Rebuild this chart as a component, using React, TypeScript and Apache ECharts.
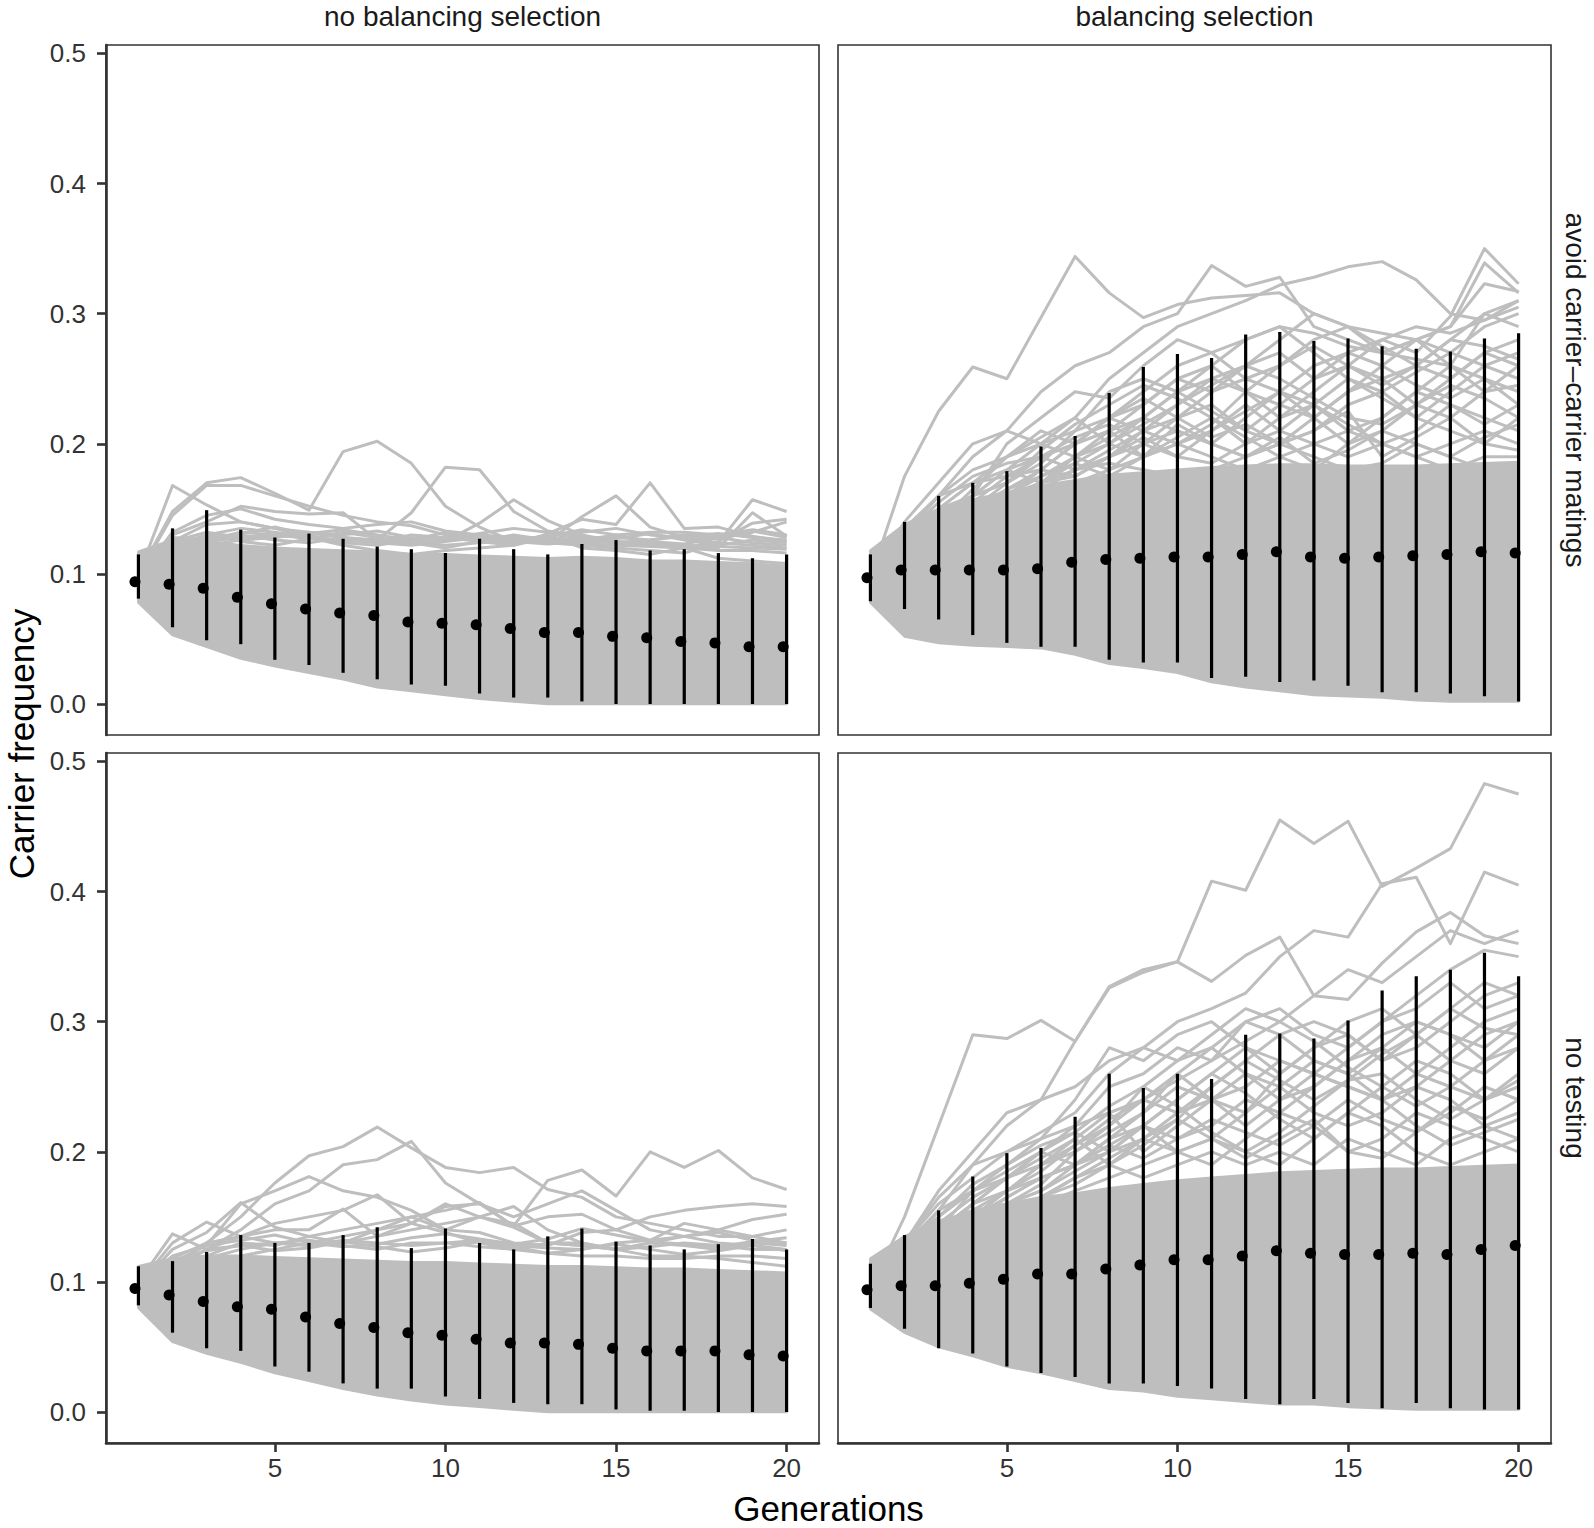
import React, { useEffect, useRef } from "react";
import * as echarts from "echarts";

const GENERATIONS = [1, 2, 3, 4, 5, 6, 7, 8, 9, 10, 11, 12, 13, 14, 15, 16, 17, 18, 19, 20];
const X_TICKS = [5, 10, 15, 20];
const Y_TICKS = [0, 0.1, 0.2, 0.3, 0.4, 0.5];
const COL_LABELS = ["no balancing selection", "balancing selection"];
const ROW_LABELS = ["avoid carrier\u2013carrier matings", "no testing"];
const X_TITLE = "Generations";
const Y_TITLE = "Carrier frequency";

// ---------- top-left: avoid carrier-carrier matings / no balancing selection
const TL_MEAN = [0.094, 0.092, 0.089, 0.082, 0.077, 0.073, 0.070, 0.068, 0.063, 0.062, 0.061, 0.058, 0.055, 0.055, 0.052, 0.051, 0.048, 0.047, 0.044, 0.044];
const TL_LO = [0.081, 0.059, 0.049, 0.046, 0.034, 0.030, 0.024, 0.019, 0.015, 0.014, 0.008, 0.005, 0.005, 0.002, 0.000, 0.000, 0.000, 0.000, 0.000, 0.000];
const TL_HI = [0.115, 0.135, 0.149, 0.134, 0.128, 0.131, 0.127, 0.121, 0.119, 0.116, 0.127, 0.119, 0.115, 0.123, 0.126, 0.118, 0.119, 0.116, 0.112, 0.115];
const TL_BAND_LO = [0.078, 0.053, 0.044, 0.035, 0.029, 0.024, 0.019, 0.013, 0.010, 0.007, 0.004, 0.002, 0.000, 0.000, 0.000, 0.000, 0.000, 0.000, 0.000, 0.000];
const TL_BAND_HI = [0.117, 0.126, 0.125, 0.122, 0.120, 0.119, 0.118, 0.117, 0.115, 0.115, 0.114, 0.113, 0.112, 0.113, 0.112, 0.110, 0.110, 0.109, 0.108, 0.106];
const TL_RUNS = [
  [0.100, 0.148, 0.170, 0.174, 0.162, 0.149, 0.194, 0.202, 0.185, 0.152, 0.136, 0.125, 0.130, 0.120, 0.118, 0.115, 0.120, 0.112, 0.110, 0.108],
  [0.097, 0.130, 0.140, 0.152, 0.148, 0.146, 0.147, 0.126, 0.147, 0.182, 0.180, 0.148, 0.133, 0.129, 0.125, 0.122, 0.120, 0.118, 0.118, 0.116],
  [0.099, 0.168, 0.153, 0.140, 0.135, 0.128, 0.122, 0.118, 0.115, 0.118, 0.120, 0.122, 0.131, 0.142, 0.138, 0.170, 0.135, 0.136, 0.129, 0.125],
  [0.098, 0.120, 0.128, 0.130, 0.126, 0.124, 0.128, 0.125, 0.130, 0.128, 0.126, 0.124, 0.125, 0.144, 0.160, 0.136, 0.128, 0.124, 0.122, 0.120],
  [0.096, 0.122, 0.130, 0.135, 0.132, 0.128, 0.126, 0.124, 0.122, 0.125, 0.128, 0.126, 0.124, 0.122, 0.120, 0.118, 0.116, 0.124, 0.157, 0.148],
  [0.097, 0.118, 0.126, 0.132, 0.130, 0.127, 0.125, 0.127, 0.124, 0.122, 0.124, 0.125, 0.123, 0.125, 0.124, 0.122, 0.121, 0.120, 0.147, 0.129],
  [0.099, 0.145, 0.168, 0.168, 0.160, 0.152, 0.145, 0.140, 0.137, 0.130, 0.128, 0.126, 0.124, 0.123, 0.122, 0.121, 0.120, 0.125, 0.139, 0.142],
  [0.096, 0.125, 0.132, 0.128, 0.130, 0.132, 0.128, 0.126, 0.124, 0.125, 0.139, 0.157, 0.141, 0.130, 0.125, 0.124, 0.122, 0.121, 0.120, 0.119],
  [0.100, 0.125, 0.138, 0.140, 0.135, 0.132, 0.130, 0.133, 0.128, 0.126, 0.130, 0.127, 0.125, 0.127, 0.128, 0.126, 0.130, 0.128, 0.124, 0.122],
  [0.097, 0.120, 0.125, 0.128, 0.130, 0.128, 0.126, 0.125, 0.127, 0.128, 0.125, 0.122, 0.128, 0.126, 0.130, 0.132, 0.132, 0.130, 0.134, 0.130],
  [0.098, 0.132, 0.145, 0.150, 0.142, 0.138, 0.135, 0.138, 0.140, 0.133, 0.130, 0.128, 0.126, 0.132, 0.135, 0.130, 0.128, 0.127, 0.132, 0.140],
  [0.095, 0.115, 0.122, 0.126, 0.128, 0.131, 0.134, 0.130, 0.126, 0.127, 0.131, 0.135, 0.132, 0.127, 0.124, 0.126, 0.129, 0.131, 0.128, 0.126],
  [0.097, 0.118, 0.130, 0.125, 0.122, 0.127, 0.132, 0.128, 0.124, 0.120, 0.125, 0.130, 0.126, 0.122, 0.127, 0.131, 0.126, 0.122, 0.126, 0.124],
  [0.096, 0.128, 0.126, 0.131, 0.136, 0.130, 0.124, 0.122, 0.126, 0.132, 0.128, 0.124, 0.129, 0.134, 0.130, 0.125, 0.123, 0.128, 0.133, 0.128],
];

// ---------- top-right: avoid carrier-carrier matings / balancing selection
const TR_MEAN = [0.097, 0.103, 0.103, 0.103, 0.103, 0.104, 0.109, 0.111, 0.112, 0.113, 0.113, 0.115, 0.117, 0.113, 0.112, 0.113, 0.114, 0.115, 0.117, 0.116];
const TR_LO = [0.079, 0.073, 0.065, 0.053, 0.047, 0.044, 0.044, 0.034, 0.032, 0.032, 0.020, 0.021, 0.017, 0.018, 0.014, 0.009, 0.009, 0.008, 0.006, 0.002];
const TR_HI = [0.115, 0.140, 0.160, 0.170, 0.179, 0.198, 0.206, 0.239, 0.259, 0.269, 0.266, 0.284, 0.286, 0.279, 0.281, 0.275, 0.273, 0.271, 0.281, 0.285];
const TR_BAND_LO = [0.078, 0.052, 0.047, 0.045, 0.044, 0.043, 0.038, 0.031, 0.028, 0.024, 0.017, 0.013, 0.010, 0.007, 0.006, 0.005, 0.003, 0.002, 0.002, 0.002];
const TR_BAND_HI = [0.118, 0.138, 0.150, 0.157, 0.163, 0.168, 0.172, 0.176, 0.178, 0.180, 0.182, 0.183, 0.184, 0.184, 0.183, 0.183, 0.183, 0.184, 0.185, 0.186];
const TR_RUNS = [
  [0.097, 0.175, 0.225, 0.259, 0.250, 0.297, 0.344, 0.316, 0.297, 0.307, 0.312, 0.314, 0.316, 0.300, 0.290, 0.285, 0.280, 0.270, 0.290, 0.300],
  [0.096, 0.130, 0.160, 0.190, 0.210, 0.240, 0.260, 0.270, 0.290, 0.300, 0.337, 0.321, 0.328, 0.290, 0.280, 0.270, 0.265, 0.260, 0.300, 0.310],
  [0.097, 0.120, 0.150, 0.170, 0.190, 0.200, 0.220, 0.250, 0.270, 0.290, 0.300, 0.310, 0.322, 0.328, 0.336, 0.340, 0.326, 0.300, 0.295, 0.310],
  [0.096, 0.120, 0.140, 0.160, 0.170, 0.190, 0.200, 0.210, 0.220, 0.240, 0.250, 0.260, 0.270, 0.250, 0.260, 0.280, 0.270, 0.298, 0.350, 0.323],
  [0.096, 0.125, 0.145, 0.160, 0.180, 0.200, 0.210, 0.220, 0.240, 0.260, 0.270, 0.280, 0.290, 0.285, 0.275, 0.270, 0.280, 0.290, 0.339, 0.316],
  [0.097, 0.130, 0.150, 0.170, 0.180, 0.190, 0.200, 0.220, 0.230, 0.250, 0.240, 0.260, 0.280, 0.300, 0.290, 0.270, 0.280, 0.290, 0.323, 0.317],
  [0.097, 0.120, 0.140, 0.160, 0.200, 0.220, 0.240, 0.235, 0.260, 0.280, 0.270, 0.250, 0.260, 0.280, 0.290, 0.275, 0.260, 0.250, 0.270, 0.280],
  [0.096, 0.115, 0.135, 0.150, 0.170, 0.185, 0.210, 0.240, 0.250, 0.240, 0.260, 0.280, 0.290, 0.270, 0.250, 0.240, 0.255, 0.270, 0.260, 0.250],
  [0.097, 0.130, 0.160, 0.180, 0.190, 0.210, 0.200, 0.220, 0.210, 0.230, 0.250, 0.240, 0.220, 0.240, 0.260, 0.250, 0.230, 0.220, 0.240, 0.260],
  [0.098, 0.120, 0.130, 0.150, 0.160, 0.170, 0.190, 0.200, 0.220, 0.210, 0.200, 0.220, 0.240, 0.230, 0.210, 0.220, 0.240, 0.260, 0.250, 0.230],
  [0.096, 0.110, 0.130, 0.140, 0.155, 0.170, 0.180, 0.190, 0.200, 0.220, 0.230, 0.210, 0.200, 0.210, 0.230, 0.240, 0.220, 0.210, 0.200, 0.220],
  [0.097, 0.125, 0.140, 0.155, 0.160, 0.175, 0.190, 0.210, 0.190, 0.200, 0.210, 0.230, 0.210, 0.200, 0.190, 0.200, 0.210, 0.230, 0.220, 0.210],
  [0.096, 0.115, 0.120, 0.140, 0.165, 0.180, 0.175, 0.190, 0.205, 0.190, 0.185, 0.200, 0.220, 0.230, 0.215, 0.200, 0.190, 0.200, 0.210, 0.200],
  [0.097, 0.140, 0.170, 0.200, 0.210, 0.200, 0.190, 0.180, 0.190, 0.200, 0.190, 0.180, 0.190, 0.200, 0.210, 0.200, 0.190, 0.180, 0.190, 0.190],
  [0.096, 0.135, 0.160, 0.170, 0.175, 0.180, 0.200, 0.210, 0.230, 0.250, 0.260, 0.240, 0.230, 0.220, 0.240, 0.260, 0.280, 0.260, 0.240, 0.245],
  [0.097, 0.120, 0.135, 0.145, 0.150, 0.160, 0.170, 0.180, 0.200, 0.210, 0.200, 0.190, 0.200, 0.220, 0.240, 0.250, 0.260, 0.280, 0.300, 0.290],
  [0.096, 0.110, 0.125, 0.140, 0.150, 0.165, 0.180, 0.185, 0.180, 0.175, 0.180, 0.190, 0.200, 0.190, 0.180, 0.185, 0.200, 0.190, 0.180, 0.185],
  [0.096, 0.118, 0.130, 0.145, 0.160, 0.170, 0.175, 0.190, 0.210, 0.220, 0.240, 0.250, 0.240, 0.260, 0.270, 0.280, 0.290, 0.285, 0.295, 0.305],
  [0.097, 0.130, 0.155, 0.175, 0.185, 0.190, 0.205, 0.215, 0.200, 0.190, 0.210, 0.225, 0.240, 0.220, 0.200, 0.210, 0.230, 0.250, 0.270, 0.260],
  [0.096, 0.120, 0.140, 0.165, 0.190, 0.205, 0.220, 0.200, 0.190, 0.205, 0.220, 0.205, 0.190, 0.180, 0.200, 0.220, 0.240, 0.230, 0.215, 0.230],
  [0.097, 0.125, 0.150, 0.160, 0.170, 0.195, 0.215, 0.230, 0.245, 0.235, 0.220, 0.200, 0.210, 0.230, 0.250, 0.235, 0.220, 0.240, 0.260, 0.270],
  [0.096, 0.118, 0.135, 0.150, 0.165, 0.175, 0.185, 0.200, 0.215, 0.230, 0.245, 0.260, 0.250, 0.235, 0.220, 0.215, 0.230, 0.245, 0.235, 0.220],
  [0.097, 0.122, 0.140, 0.155, 0.175, 0.190, 0.180, 0.195, 0.210, 0.200, 0.215, 0.240, 0.260, 0.275, 0.260, 0.245, 0.260, 0.280, 0.275, 0.265],
  [0.096, 0.116, 0.130, 0.145, 0.155, 0.170, 0.185, 0.175, 0.190, 0.215, 0.200, 0.190, 0.205, 0.185, 0.195, 0.210, 0.200, 0.190, 0.205, 0.215],
  [0.097, 0.128, 0.145, 0.160, 0.180, 0.170, 0.190, 0.205, 0.220, 0.240, 0.225, 0.210, 0.230, 0.250, 0.270, 0.260, 0.245, 0.235, 0.250, 0.240],
  [0.096, 0.112, 0.128, 0.140, 0.160, 0.180, 0.200, 0.220, 0.235, 0.220, 0.205, 0.215, 0.200, 0.210, 0.225, 0.190, 0.205, 0.220, 0.200, 0.195],
];

// ---------- bottom-left: no testing / no balancing selection
const BL_MEAN = [0.095, 0.090, 0.085, 0.081, 0.079, 0.073, 0.068, 0.065, 0.061, 0.059, 0.056, 0.053, 0.053, 0.052, 0.049, 0.047, 0.047, 0.047, 0.044, 0.043];
const BL_LO = [0.082, 0.061, 0.049, 0.047, 0.035, 0.031, 0.022, 0.018, 0.018, 0.012, 0.010, 0.007, 0.006, 0.006, 0.002, 0.001, 0.001, 0.000, 0.000, 0.000];
const BL_HI = [0.112, 0.116, 0.123, 0.136, 0.130, 0.130, 0.136, 0.142, 0.126, 0.141, 0.130, 0.125, 0.135, 0.141, 0.131, 0.128, 0.125, 0.129, 0.133, 0.125];
const BL_BAND_LO = [0.080, 0.054, 0.045, 0.038, 0.030, 0.024, 0.018, 0.013, 0.009, 0.006, 0.004, 0.002, 0.000, 0.000, 0.000, 0.000, 0.000, 0.000, 0.000, 0.000];
const BL_BAND_HI = [0.112, 0.118, 0.120, 0.120, 0.119, 0.118, 0.117, 0.116, 0.115, 0.115, 0.114, 0.113, 0.112, 0.112, 0.111, 0.110, 0.110, 0.109, 0.108, 0.107];
const BL_RUNS = [
  [0.096, 0.110, 0.130, 0.150, 0.176, 0.197, 0.204, 0.219, 0.203, 0.188, 0.184, 0.188, 0.171, 0.165, 0.150, 0.145, 0.140, 0.135, 0.135, 0.130],
  [0.095, 0.110, 0.125, 0.140, 0.160, 0.170, 0.190, 0.194, 0.208, 0.176, 0.160, 0.150, 0.160, 0.170, 0.155, 0.140, 0.135, 0.130, 0.128, 0.125],
  [0.097, 0.115, 0.128, 0.160, 0.170, 0.181, 0.170, 0.165, 0.155, 0.140, 0.150, 0.145, 0.130, 0.130, 0.125, 0.120, 0.120, 0.118, 0.115, 0.112],
  [0.095, 0.105, 0.110, 0.120, 0.125, 0.130, 0.135, 0.140, 0.150, 0.155, 0.161, 0.143, 0.178, 0.186, 0.166, 0.200, 0.188, 0.201, 0.180, 0.171],
  [0.096, 0.108, 0.120, 0.130, 0.128, 0.135, 0.140, 0.145, 0.150, 0.140, 0.138, 0.130, 0.128, 0.138, 0.140, 0.150, 0.155, 0.158, 0.160, 0.158],
  [0.095, 0.110, 0.118, 0.125, 0.130, 0.128, 0.130, 0.135, 0.140, 0.145, 0.150, 0.142, 0.130, 0.128, 0.125, 0.130, 0.135, 0.140, 0.148, 0.152],
  [0.097, 0.125, 0.138, 0.161, 0.142, 0.135, 0.130, 0.140, 0.145, 0.138, 0.130, 0.125, 0.122, 0.120, 0.120, 0.118, 0.118, 0.120, 0.120, 0.118],
  [0.096, 0.118, 0.130, 0.135, 0.140, 0.140, 0.156, 0.135, 0.145, 0.160, 0.150, 0.158, 0.140, 0.130, 0.125, 0.130, 0.128, 0.125, 0.130, 0.128],
  [0.095, 0.112, 0.125, 0.135, 0.145, 0.150, 0.155, 0.167, 0.145, 0.158, 0.160, 0.143, 0.150, 0.152, 0.140, 0.132, 0.145, 0.140, 0.135, 0.140],
  [0.098, 0.130, 0.146, 0.135, 0.130, 0.128, 0.132, 0.130, 0.128, 0.130, 0.127, 0.125, 0.130, 0.128, 0.125, 0.127, 0.130, 0.128, 0.125, 0.125],
  [0.100, 0.137, 0.125, 0.128, 0.130, 0.132, 0.128, 0.125, 0.130, 0.130, 0.132, 0.128, 0.126, 0.125, 0.130, 0.132, 0.135, 0.138, 0.132, 0.130],
  [0.096, 0.120, 0.128, 0.132, 0.136, 0.130, 0.127, 0.129, 0.134, 0.137, 0.133, 0.129, 0.133, 0.141, 0.136, 0.131, 0.129, 0.127, 0.131, 0.134],
  [0.097, 0.116, 0.124, 0.128, 0.124, 0.126, 0.131, 0.127, 0.123, 0.126, 0.131, 0.127, 0.122, 0.125, 0.129, 0.125, 0.121, 0.124, 0.128, 0.124],
];

// ---------- bottom-right: no testing / balancing selection
const BR_MEAN = [0.094, 0.097, 0.097, 0.099, 0.102, 0.106, 0.106, 0.110, 0.113, 0.117, 0.117, 0.120, 0.124, 0.122, 0.121, 0.121, 0.122, 0.121, 0.125, 0.128];
const BR_LO = [0.080, 0.064, 0.049, 0.045, 0.035, 0.030, 0.027, 0.022, 0.022, 0.020, 0.018, 0.010, 0.006, 0.010, 0.007, 0.003, 0.007, 0.003, 0.002, 0.002];
const BR_HI = [0.114, 0.136, 0.155, 0.181, 0.199, 0.203, 0.227, 0.260, 0.249, 0.260, 0.256, 0.290, 0.291, 0.287, 0.301, 0.324, 0.335, 0.340, 0.353, 0.335];
const BR_BAND_LO = [0.079, 0.061, 0.050, 0.043, 0.035, 0.030, 0.024, 0.018, 0.016, 0.012, 0.010, 0.008, 0.006, 0.006, 0.004, 0.003, 0.002, 0.002, 0.002, 0.002];
const BR_BAND_HI = [0.118, 0.135, 0.147, 0.154, 0.160, 0.165, 0.168, 0.172, 0.175, 0.178, 0.180, 0.182, 0.184, 0.185, 0.186, 0.187, 0.187, 0.188, 0.189, 0.190];
const BR_RUNS = [
  [0.095, 0.150, 0.220, 0.290, 0.287, 0.301, 0.285, 0.327, 0.340, 0.346, 0.408, 0.401, 0.455, 0.437, 0.454, 0.404, 0.418, 0.433, 0.483, 0.475],
  [0.095, 0.130, 0.170, 0.200, 0.230, 0.240, 0.250, 0.270, 0.280, 0.300, 0.310, 0.322, 0.350, 0.370, 0.365, 0.406, 0.411, 0.360, 0.415, 0.405],
  [0.096, 0.120, 0.155, 0.190, 0.220, 0.240, 0.285, 0.326, 0.338, 0.346, 0.331, 0.351, 0.365, 0.320, 0.317, 0.345, 0.369, 0.384, 0.366, 0.360],
  [0.095, 0.120, 0.140, 0.160, 0.180, 0.200, 0.220, 0.250, 0.260, 0.280, 0.270, 0.300, 0.310, 0.290, 0.280, 0.300, 0.320, 0.340, 0.355, 0.350],
  [0.094, 0.115, 0.130, 0.150, 0.170, 0.190, 0.210, 0.230, 0.240, 0.230, 0.250, 0.270, 0.290, 0.300, 0.290, 0.270, 0.280, 0.300, 0.320, 0.330],
  [0.096, 0.125, 0.150, 0.170, 0.180, 0.190, 0.200, 0.220, 0.250, 0.270, 0.280, 0.260, 0.240, 0.250, 0.270, 0.290, 0.300, 0.290, 0.280, 0.300],
  [0.095, 0.110, 0.125, 0.140, 0.160, 0.170, 0.190, 0.200, 0.210, 0.230, 0.240, 0.250, 0.270, 0.260, 0.250, 0.240, 0.250, 0.270, 0.260, 0.280],
  [0.094, 0.120, 0.140, 0.160, 0.170, 0.180, 0.190, 0.210, 0.220, 0.210, 0.220, 0.240, 0.230, 0.250, 0.270, 0.280, 0.260, 0.250, 0.240, 0.250],
  [0.095, 0.130, 0.160, 0.180, 0.200, 0.210, 0.220, 0.230, 0.200, 0.220, 0.240, 0.260, 0.250, 0.230, 0.220, 0.230, 0.250, 0.240, 0.220, 0.230],
  [0.096, 0.115, 0.130, 0.140, 0.150, 0.165, 0.180, 0.190, 0.210, 0.200, 0.190, 0.210, 0.230, 0.220, 0.200, 0.210, 0.230, 0.220, 0.210, 0.200],
  [0.094, 0.110, 0.120, 0.135, 0.150, 0.160, 0.170, 0.180, 0.190, 0.200, 0.210, 0.200, 0.190, 0.210, 0.230, 0.220, 0.200, 0.190, 0.200, 0.210],
  [0.095, 0.125, 0.145, 0.155, 0.160, 0.170, 0.185, 0.200, 0.220, 0.240, 0.260, 0.280, 0.270, 0.260, 0.280, 0.300, 0.310, 0.330, 0.310, 0.320],
  [0.096, 0.120, 0.135, 0.150, 0.165, 0.180, 0.190, 0.210, 0.230, 0.250, 0.240, 0.220, 0.240, 0.260, 0.250, 0.240, 0.260, 0.280, 0.300, 0.310],
  [0.095, 0.115, 0.125, 0.140, 0.155, 0.165, 0.175, 0.190, 0.180, 0.190, 0.200, 0.190, 0.200, 0.190, 0.210, 0.200, 0.190, 0.210, 0.220, 0.210],
  [0.095, 0.120, 0.140, 0.170, 0.190, 0.210, 0.240, 0.280, 0.270, 0.290, 0.300, 0.280, 0.260, 0.280, 0.290, 0.270, 0.290, 0.310, 0.330, 0.320],
  [0.094, 0.113, 0.130, 0.145, 0.160, 0.175, 0.200, 0.215, 0.230, 0.260, 0.280, 0.300, 0.290, 0.270, 0.260, 0.280, 0.300, 0.290, 0.270, 0.280],
  [0.096, 0.130, 0.165, 0.190, 0.200, 0.215, 0.230, 0.260, 0.280, 0.270, 0.290, 0.310, 0.300, 0.320, 0.340, 0.330, 0.350, 0.370, 0.360, 0.370],
  [0.095, 0.125, 0.150, 0.175, 0.190, 0.205, 0.215, 0.200, 0.220, 0.240, 0.260, 0.245, 0.225, 0.210, 0.230, 0.250, 0.270, 0.260, 0.240, 0.255],
  [0.096, 0.118, 0.135, 0.160, 0.180, 0.200, 0.215, 0.235, 0.250, 0.235, 0.215, 0.200, 0.215, 0.235, 0.255, 0.260, 0.240, 0.225, 0.240, 0.260],
  [0.094, 0.120, 0.140, 0.155, 0.170, 0.185, 0.205, 0.225, 0.240, 0.255, 0.270, 0.285, 0.300, 0.285, 0.265, 0.250, 0.235, 0.250, 0.270, 0.290],
  [0.095, 0.113, 0.128, 0.145, 0.165, 0.180, 0.190, 0.205, 0.195, 0.210, 0.225, 0.215, 0.205, 0.220, 0.240, 0.225, 0.215, 0.230, 0.250, 0.240],
  [0.096, 0.128, 0.155, 0.170, 0.185, 0.200, 0.190, 0.205, 0.220, 0.200, 0.210, 0.230, 0.250, 0.270, 0.260, 0.240, 0.220, 0.205, 0.215, 0.225],
  [0.095, 0.116, 0.130, 0.150, 0.170, 0.190, 0.205, 0.220, 0.240, 0.260, 0.240, 0.230, 0.260, 0.280, 0.300, 0.310, 0.290, 0.270, 0.290, 0.300],
  [0.094, 0.110, 0.125, 0.140, 0.150, 0.165, 0.180, 0.195, 0.210, 0.225, 0.210, 0.195, 0.210, 0.225, 0.200, 0.195, 0.215, 0.235, 0.225, 0.240],
  [0.096, 0.122, 0.145, 0.165, 0.180, 0.195, 0.210, 0.190, 0.205, 0.225, 0.250, 0.270, 0.255, 0.240, 0.255, 0.275, 0.290, 0.310, 0.295, 0.290],
];

const PANELS = [
  { mean: TL_MEAN, lo: TL_LO, hi: TL_HI, bandLo: TL_BAND_LO, bandHi: TL_BAND_HI, runs: TL_RUNS, col: 0, row: 0 },
  { mean: TR_MEAN, lo: TR_LO, hi: TR_HI, bandLo: TR_BAND_LO, bandHi: TR_BAND_HI, runs: TR_RUNS, col: 1, row: 0 },
  { mean: BL_MEAN, lo: BL_LO, hi: BL_HI, bandLo: BL_BAND_LO, bandHi: BL_BAND_HI, runs: BL_RUNS, col: 0, row: 1 },
  { mean: BR_MEAN, lo: BR_LO, hi: BR_HI, bandLo: BR_BAND_LO, bandHi: BR_BAND_HI, runs: BR_RUNS, col: 1, row: 1 },
];

const FONT = "'Liberation Sans', Arial, Helvetica, sans-serif";
const GRAY = "#bebebe";
const AXIS_COL = "#333333";
const COL_LEFT = [106, 838];
const ROW_TOP = [45, 753];
const PANEL_W = 713;
const PANEL_H = 690;
const DOT_DODGE = 0.1;

function buildOption() {
  const grid: any[] = [];
  const xAxis: any[] = [];
  const yAxis: any[] = [];
  const series: any[] = [];

  PANELS.forEach((p, i) => {
    const isLeft = p.col === 0;
    const isBottom = p.row === 1;
    grid.push({
      left: COL_LEFT[p.col],
      top: ROW_TOP[p.row],
      width: PANEL_W,
      height: PANEL_H,
      show: true,
      borderColor: AXIS_COL,
      borderWidth: 1.6,
      backgroundColor: "transparent",
      containLabel: false,
    });
    xAxis.push({
      gridIndex: i,
      type: "value",
      min: 0.05,
      max: 20.95,
      splitLine: { show: false },
      axisLine: { show: isBottom, onZero: false, lineStyle: { color: AXIS_COL, width: 2.6 } },
      axisTick: { show: isBottom, customValues: X_TICKS, length: 9, lineStyle: { color: AXIS_COL, width: 2.6 } },
      axisLabel: {
        show: isBottom,
        customValues: X_TICKS,
        fontSize: 26,
        color: AXIS_COL,
        fontFamily: FONT,
        margin: 12,
        formatter: (v: number) => String(v),
      },
    });
    yAxis.push({
      gridIndex: i,
      type: "value",
      min: -0.0238,
      max: 0.5065,
      splitLine: { show: false },
      axisLine: { show: isLeft, onZero: false, lineStyle: { color: AXIS_COL, width: 2.6 } },
      axisTick: { show: isLeft, customValues: Y_TICKS, length: 9, lineStyle: { color: AXIS_COL, width: 2.6 } },
      axisLabel: {
        show: isLeft,
        customValues: Y_TICKS,
        fontSize: 26,
        color: AXIS_COL,
        fontFamily: FONT,
        margin: 20,
        formatter: (v: number) => v.toFixed(1),
      },
    });

    // dense band of trajectories, drawn as one polygon through the axis scales
    series.push({
      type: "custom",
      xAxisIndex: i,
      yAxisIndex: i,
      silent: true,
      z: 1,
      data: GENERATIONS.map((g, k) => [g, p.bandLo[k], p.bandHi[k]]),
      encode: { x: 0, y: [1, 2] },
      renderItem: (params: any, api: any) => {
        if (params.dataIndex !== 0) return { type: "group", children: [] };
        const upper = GENERATIONS.map((g, k) => api.coord([g, p.bandHi[k]]));
        const lower = GENERATIONS.map((g, k) => api.coord([g, p.bandLo[k]])).reverse();
        return {
          type: "polygon",
          shape: { points: upper.concat(lower) },
          style: { fill: GRAY, stroke: GRAY, lineWidth: 2.6, lineJoin: "round" },
        };
      },
    });
    // individual trajectories
    p.runs.forEach((run) => {
      series.push({
        type: "line",
        xAxisIndex: i,
        yAxisIndex: i,
        data: GENERATIONS.map((g, k) => [g, run[k]]),
        symbol: "none",
        silent: true,
        lineStyle: { color: GRAY, width: 3, join: "round" },
        z: 2,
      });
    });
    // interval bars
    series.push({
      type: "custom",
      xAxisIndex: i,
      yAxisIndex: i,
      silent: true,
      z: 3,
      data: GENERATIONS.map((g, k) => [g, p.lo[k], p.hi[k]]),
      encode: { x: 0, y: [1, 2] },
      renderItem: (params: any, api: any) => {
        const x = api.value(0);
        const a = api.coord([x, api.value(1)]);
        const b = api.coord([x, api.value(2)]);
        return {
          type: "line",
          shape: { x1: a[0], y1: a[1], x2: b[0], y2: b[1] },
          style: { stroke: "#000000", lineWidth: 3.2 },
        };
      },
    });
    // means
    series.push({
      type: "scatter",
      xAxisIndex: i,
      yAxisIndex: i,
      silent: true,
      z: 4,
      symbol: "circle",
      symbolSize: 11,
      itemStyle: { color: "#000000", opacity: 1 },
      data: GENERATIONS.map((g, k) => [g - DOT_DODGE, p.mean[k]]),
    });
  });

  const graphic: any[] = [
    {
      type: "text",
      x: COL_LEFT[0] + PANEL_W / 2,
      y: 16.5,
      style: { text: COL_LABELS[0], fontSize: 28, fontFamily: FONT, fill: "#1a1a1a", align: "center", verticalAlign: "middle" },
    },
    {
      type: "text",
      x: COL_LEFT[1] + PANEL_W / 2,
      y: 16.5,
      style: { text: COL_LABELS[1], fontSize: 28, fontFamily: FONT, fill: "#1a1a1a", align: "center", verticalAlign: "middle" },
    },
    {
      type: "text",
      x: 1575,
      y: ROW_TOP[0] + PANEL_H / 2,
      rotation: -Math.PI / 2,
      style: { text: ROW_LABELS[0], fontSize: 28, fontFamily: FONT, fill: "#1a1a1a", align: "center", verticalAlign: "middle" },
    },
    {
      type: "text",
      x: 1575,
      y: ROW_TOP[1] + PANEL_H / 2,
      rotation: -Math.PI / 2,
      style: { text: ROW_LABELS[1], fontSize: 28, fontFamily: FONT, fill: "#1a1a1a", align: "center", verticalAlign: "middle" },
    },
    {
      type: "text",
      x: (COL_LEFT[0] + COL_LEFT[1] + PANEL_W) / 2,
      y: 1508,
      style: { text: X_TITLE, fontSize: 35, fontFamily: FONT, fill: "#000000", align: "center", verticalAlign: "middle" },
    },
    {
      type: "text",
      x: 21,
      y: (ROW_TOP[0] + ROW_TOP[1] + PANEL_H) / 2,
      rotation: Math.PI / 2,
      style: { text: Y_TITLE, fontSize: 35, fontFamily: FONT, fill: "#000000", align: "center", verticalAlign: "middle" },
    },
  ];

  return {
    animation: false,
    backgroundColor: "#ffffff",
    grid,
    xAxis,
    yAxis,
    series,
    graphic,
  };
}

export default function App() {
  const ref = useRef<HTMLDivElement>(null);
  useEffect(() => {
    document.body.style.margin = "0";
    if (!ref.current) return;
    const chart = echarts.init(ref.current, undefined, { renderer: "svg" });
    chart.setOption(buildOption());
    return () => chart.dispose();
  }, []);
  return <div ref={ref} style={{ position: "absolute", left: 0, top: 0, width: 1594, height: 1528, background: "#fff" }} />;
}
